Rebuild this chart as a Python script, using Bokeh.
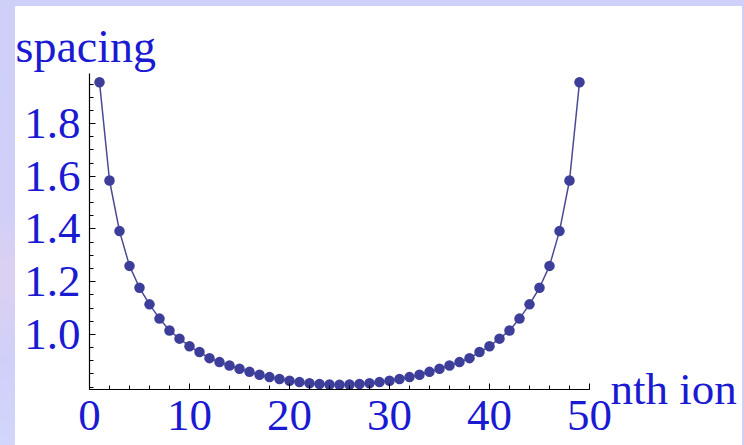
from bokeh.plotting import figure
from bokeh.models import (Range1d, Spacer, FixedTicker, NumeralTickFormatter,
                          LinearAxis, Title, CustomJSTickFormatter)
from bokeh.layouts import row, column
from bokeh.embed import file_html
from bokeh.resources import INLINE

# ---- data ----
ion_index = list(range(1, 50))
spacing = [1.957, 1.584, 1.392, 1.260, 1.177, 1.114, 1.060, 1.015, 0.984, 0.955,
           0.933, 0.910, 0.895, 0.882, 0.870, 0.858, 0.847, 0.838, 0.831, 0.824,
           0.819, 0.815, 0.812, 0.810, 0.809,
           0.810, 0.812, 0.815, 0.819, 0.824, 0.831, 0.838, 0.847, 0.858, 0.870,
           0.882, 0.895, 0.910, 0.933, 0.955, 0.984, 1.015, 1.060, 1.114, 1.177,
           1.260, 1.392, 1.584, 1.957]
x_ticks = [0, 10, 20, 30, 40, 50]
x_minor = list(range(0, 52, 2))
y_ticks = [1.0, 1.2, 1.4, 1.6, 1.8]
y_minor = [round(0.8 + 0.05 * i, 2) for i in range(24)]
y_label = "spacing"
x_label = "nth ion"

LAV = "#cdd0f8"
BLUE = "#1a1ad2"
DOT = "#3d3d9a"
LINE = "#4a4a92"
FONT = "Liberation Serif"

Y0, Y1 = 0.791, 1.99

p = figure(width=727, height=439, output_backend="svg", toolbar_location=None,
           x_range=Range1d(0, 50), y_range=Range1d(Y0, Y1),
           min_border_left=74, min_border_right=153, min_border_top=67,
           min_border_bottom=56)
p.outline_line_color = None
p.grid.visible = False
p.background_fill_color = "white"
p.border_fill_color = "white"

p.line(ion_index, spacing, line_color=LINE, line_width=1.5)
p.scatter(ion_index, spacing, size=10.5, fill_color=DOT, line_color=None)

for ax in (p.xaxis[0], p.yaxis[0]):
    ax.axis_line_color = "black"
    ax.axis_line_width = 1.2
    ax.major_tick_line_color = "black"
    ax.minor_tick_line_color = "black"
    ax.major_tick_in = 6
    ax.major_tick_out = 0
    ax.minor_tick_in = 4
    ax.minor_tick_out = 0
    ax.major_label_text_font = FONT
    ax.major_label_text_font_size = "45px"
    ax.major_label_text_color = BLUE

p.xaxis.ticker = FixedTicker(ticks=x_ticks, minor_ticks=x_minor)
p.yaxis.ticker = FixedTicker(ticks=y_ticks, minor_ticks=y_minor)
p.yaxis.formatter = NumeralTickFormatter(format="0.0")
p.yaxis.major_label_standoff = 9
p.xaxis.major_label_standoff = 11

# "nth ion" to the right of the x axis end
lbl_axis = LinearAxis(ticker=FixedTicker(ticks=[Y0 + 0.0002]),
                      formatter=CustomJSTickFormatter(code="return '%s';" % x_label),
                      axis_line_color=None, major_tick_line_color=None,
                      minor_tick_line_color=None, major_label_standoff=15,
                      major_label_text_font=FONT, major_label_text_font_size="45px",
                      major_label_text_color=BLUE)
p.add_layout(lbl_axis, "right")

# "spacing" above the y axis
p.add_layout(Title(text=y_label, align="left", offset=-74, vertical_align="top",
                   standoff=0, text_font=FONT, text_font_size="46px",
                   text_font_style="normal", text_color=BLUE), "above")

bg = "linear-gradient(#cfd0fa 0%, #cfcff8 45%, #dcd0f2 62%, #cfd0f8 80%, #d2d6fa 100%)"
top_strip = Spacer(width=744, height=6, styles={"background": "#cfd0fa"})
left_strip = Spacer(width=15, height=439, styles={"background": bg})
right_strip = Spacer(width=2, height=439, styles={"background": LAV})
layout = column(top_strip, row(left_strip, p, right_strip))

open("out.html", "w").write(file_html(layout, INLINE))
